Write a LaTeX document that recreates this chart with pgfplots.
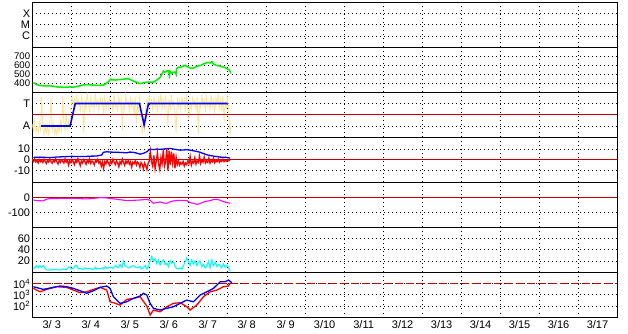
\documentclass[border=0pt]{standalone}
\usepackage{fontspec}
\setmainfont{Liberation Sans}
\usepackage{pgfplots}
\pgfplotsset{compat=1.18}
\definecolor{dred}{RGB}{192,0,0}
\definecolor{pyel}{RGB}{250,228,150}
\definecolor{lgreen}{RGB}{0,240,0}
\definecolor{lcyan}{RGB}{0,255,255}
\definecolor{lmag}{RGB}{255,0,255}
\pgfplotsset{
  panel/.style={
    scale only axis, width=584.7pt, height=45pt,
    anchor=south west,
    xmin=0, xmax=15,
    xtick={1,2,...,14}, xticklabels={},
    xmajorgrids, ymajorgrids,
    major tick length=0pt, minor tick length=0pt,
    major grid style={black, line width=0.8pt, dash pattern=on 0.8pt off 3.2pt},
    axis line style={black, line width=1pt},
    tick label style={font=\fontsize{11}{12}\selectfont},
    yticklabel style={inner ysep=0pt, inner xsep=2pt},
    /pgf/number format/assume math mode=true,
    clip=true,
  }
}
\begin{document}
\begin{tikzpicture}
\useasboundingbox (0pt,0pt) rectangle (628pt,334pt);

% Panel 1: X M C
\begin{axis}[panel, at={(32.3pt,286.7pt)}, ymin=0, ymax=4,
  ytick={1,2,3}, yticklabels={C,M,X}]
\addplot[draw=none] coordinates {(0,0)};
\end{axis}

% Panel 2: green
\begin{axis}[panel, at={(32.3pt,241.7pt)}, ymin=300, ymax=800,
  ytick={400,500,600,700}, yticklabels={400,500,600,700},
  yticklabel style={font=\fontsize{9.6}{10}\selectfont}]
\addplot[lgreen, line width=1.5pt] coordinates {
(0.027,405)(0.07,400)(0.112,385)(0.198,375)(0.283,372)(0.369,370)(0.455,372)
(0.540,368)(0.626,360)(0.668,357)(0.711,360)(0.80,355)(0.883,357)(0.968,360)
(1.054,357)(1.14,365)(1.225,371)(1.311,382)(1.396,385)(1.48,383)(1.567,380)
(1.653,378)(1.739,378)(1.824,380)(1.88,395)(1.953,418)(2.012,447)(2.05,440)
(2.124,436)(2.20,440)(2.252,442)(2.338,443)(2.381,448)(2.466,450)(2.52,440)
(2.595,425)(2.68,410)(2.766,396)(2.85,405)(2.937,414)(3.023,414)(3.066,412)
(3.108,414)(3.194,436)(3.279,465)(3.32,500)(3.365,536)(3.40,520)(3.451,540)
(3.50,536)(3.52,490)(3.536,536)(3.58,510)(3.622,525)(3.665,525)(3.69,500)(3.70,560)
(3.751,580)(3.80,575)(3.879,593)(3.92,600)(3.964,585)(4.007,580)(4.05,570)
(4.135,568)(4.18,580)(4.221,590)(4.307,597)(4.35,605)(4.392,615)(4.435,621)
(4.478,630)(4.521,632)(4.564,625)(4.606,640)(4.649,614)(4.70,605)(4.735,597)
(4.80,595)(4.820,590)(4.906,580)(4.949,575)(5.00,560)(5.035,555)(5.061,545)(5.095,510)
};
\end{axis}

% Panel 3: T / A
\begin{axis}[panel, at={(32.3pt,196.7pt)}, ymin=0, ymax=4,
  ytick={1,3}, yticklabels={A,T}]
\addplot[pyel, line width=0.8pt] coordinates {
(0.00,1.2)(0.03,0.6)(0.06,1.5)(0.09,0.4)(0.12,1.0)(0.15,0.3)(0.18,1.3)(0.21,0.5)
(0.24,3.6)(0.27,0.8)(0.30,0.2)(0.33,1.1)(0.36,0.4)(0.39,0.9)(0.42,0.2)(0.45,1.4)
(0.48,3.5)(0.51,0.6)(0.54,1.2)(0.57,0.3)(0.60,0.8)(0.63,0.2)(0.66,1.0)(0.69,0.5)
(0.72,1.6)(0.75,0.4)(0.78,3.7)(0.81,1.2)(0.84,0.6)(0.87,2.2)(0.90,0.8)(0.93,1.5)
(0.96,0.7)(0.99,2.6)(1.02,3.6)(1.05,2.8)(1.08,3.4)(1.11,2.4)(1.14,3.7)(1.17,2.9)
(1.20,3.3)(1.23,2.2)(1.26,3.6)(1.29,3.0)(1.32,0.4)(1.35,3.4)(1.38,2.6)(1.41,3.8)
(1.44,3.1)(1.47,2.3)(1.50,3.5)(1.53,2.7)(1.56,3.2)(1.59,2.5)(1.62,3.9)(1.65,2.8)
(1.68,3.3)(1.71,2.4)(1.74,3.6)(1.77,2.9)(1.80,3.4)(1.83,2.1)(1.86,3.7)(1.89,2.5)
(1.92,3.2)(1.95,2.6)(1.98,3.5)(2.01,2.9)(2.04,3.3)(2.07,2.2)(2.10,3.8)(2.13,2.7)
(2.16,3.1)(2.19,2.4)(2.22,3.6)(2.25,2.8)(2.28,3.4)(2.31,0.6)(2.34,3.0)(2.37,2.5)
(2.40,3.7)(2.43,2.9)(2.46,3.2)(2.49,2.3)(2.52,3.5)(2.55,2.7)(2.58,3.3)(2.61,2.0)
(2.64,3.6)(2.67,1.2)(2.70,3.1)(2.73,2.2)(2.76,3.8)(2.79,1.5)(2.82,0.3)(2.85,1.8)
(2.88,0.5)(2.91,2.8)(2.94,3.4)(2.97,2.6)(3.00,3.7)(3.03,2.9)(3.06,3.3)(3.09,2.3)
(3.12,3.6)(3.15,2.7)(3.18,3.2)(3.21,2.2)(3.24,3.5)(3.27,2.8)(3.30,3.9)(3.33,2.4)
(3.36,3.3)(3.39,2.6)(3.42,3.6)(3.45,2.9)(3.48,1.0)(3.51,3.4)(3.54,2.5)(3.57,3.7)
(3.60,2.8)(3.63,3.2)(3.66,2.1)(3.69,0.4)(3.72,3.5)(3.75,2.7)(3.78,3.3)(3.81,2.4)
(3.84,3.6)(3.87,2.9)(3.90,3.4)(3.93,2.2)(3.96,3.8)(3.99,2.6)(4.02,1.6)(4.05,3.1)
(4.08,2.5)(4.11,3.5)(4.14,2.8)(4.17,3.3)(4.20,2.3)(4.23,3.6)(4.26,0.3)(4.29,3.0)
(4.32,2.6)(4.35,3.7)(4.38,2.9)(4.41,3.4)(4.44,2.2)(4.47,3.6)(4.50,2.8)(4.53,3.2)
(4.56,2.4)(4.59,3.8)(4.62,2.7)(4.65,3.3)(4.68,2.1)(4.71,3.5)(4.74,2.9)(4.77,3.9)
(4.80,2.6)(4.83,3.4)(4.86,2.3)(4.89,3.7)(4.92,1.4)(4.95,3.2)(4.98,2.6)(5.01,3.5)
(5.04,2.4)(5.07,0.2)(5.10,1.5)
};
\addplot[dred, line width=1.2pt] coordinates {(0,2)(15,2)};
\addplot[blue, line width=1.6pt] coordinates {
(0.224,1)(0.97,1)(1.10,3)(2.749,3)(2.869,1.1)(2.98,3)(5.01,3)};
\end{axis}

% Panel 4: blue/red +-10
\begin{axis}[panel, at={(32.3pt,151.7pt)}, ymin=-21, ymax=21,
  ytick={-10,0,10}, yticklabels={-10,0,10}]
\addplot[dred, line width=1.2pt] coordinates {(0,0)(15,0)};
\addplot[blue, line width=1.3pt] coordinates {
(0.027,2.2)(0.2,2.5)(0.455,2.0)(0.6,2.5)(0.883,3.0)(1.0,3.2)(1.311,3.0)(1.5,3.4)
(1.653,3.5)(1.78,4.5)(1.824,7.0)(1.91,7.5)(2.0,7.2)(2.167,7.0)(2.3,6.8)(2.423,6.5)
(2.5,7.2)(2.595,7.0)(2.7,6.0)(2.766,5.3)(2.85,6.0)(2.937,7.5)(3.023,10.0)(3.108,9.5)
(3.194,10.0)(3.279,9.8)(3.365,10.0)(3.451,10.4)(3.536,10.6)(3.622,10.0)(3.7,9.5)
(3.793,9.0)(3.88,9.2)(3.964,9.4)(4.05,9.0)(4.135,8.4)(4.221,7.8)(4.307,7.0)
(4.392,5.8)(4.478,4.7)(4.564,4.0)(4.649,3.4)(4.735,3.0)(4.820,2.5)(4.906,2.4)
(4.992,2.2)(5.078,1.5)
};
\addplot[red, line width=1.3pt] coordinates {
(0.00,0.5)(0.03,-1.5)(0.06,0.8)(0.09,-2.0)(0.12,-0.5)(0.15,-3.0)(0.18,0.2)(0.21,-1.8)
(0.24,-0.6)(0.27,-2.5)(0.30,0.5)(0.33,-1.2)(0.36,-3.5)(0.39,-0.8)(0.42,-2.2)(0.45,0.6)
(0.48,-1.5)(0.51,-3.2)(0.54,-0.4)(0.57,-2.0)(0.60,1.0)(0.63,-1.8)(0.66,-4.0)(0.69,-0.6)
(0.72,-2.5)(0.75,-0.2)(0.78,-1.4)(0.81,-3.0)(0.84,0.8)(0.87,-2.2)(0.90,-0.6)(0.93,-5.0)
(0.96,-1.0)(0.99,-2.8)(1.02,0.4)(1.05,-1.6)(1.08,-4.5)(1.11,-0.8)(1.14,-2.4)(1.17,1.2)
(1.20,-2.0)(1.23,-5.5)(1.26,-1.2)(1.29,-3.0)(1.32,0.2)(1.35,-1.8)(1.38,-4.2)(1.41,-0.5)
(1.44,-2.6)(1.47,0.8)(1.50,-3.5)(1.53,-1.0)(1.56,-2.2)(1.59,-4.8)(1.62,-0.6)(1.65,-2.0)
(1.68,0.5)(1.71,-3.2)(1.74,-1.4)(1.77,-6.0)(1.80,-2.0)(1.83,-8.0)(1.86,-1.5)(1.89,-3.8)
(1.92,-0.4)(1.95,-2.6)(1.98,-5.0)(2.01,-1.2)(2.04,-3.4)(2.07,0.5)(2.10,-2.2)(2.13,-4.5)
(2.16,-1.0)(2.19,-3.0)(2.22,-6.5)(2.25,-1.6)(2.28,-3.8)(2.31,0.8)(2.34,-2.4)(2.37,-5.2)
(2.40,-1.0)(2.43,-3.2)(2.46,-0.6)(2.49,-4.0)(2.52,-1.8)(2.55,-6.8)(2.58,-2.2)(2.61,-3.6)
(2.64,-1.0)(2.67,-5.0)(2.70,-2.0)(2.73,-3.4)(2.76,-7.0)(2.79,-2.5)(2.82,-4.2)(2.85,-8.5)
(2.88,-3.0)(2.91,-5.5)(2.94,-9.0)(2.97,-3.5)(3.00,-1.0)(3.03,8.0)(3.06,-2.0)(3.09,-6.0)
(3.12,4.0)(3.15,-8.5)(3.18,-1.5)(3.21,6.5)(3.24,-4.0)(3.27,-9.0)(3.30,2.0)(3.33,-3.5)
(3.36,9.0)(3.39,-6.0)(3.42,-2.0)(3.45,10.5)(3.48,-10.0)(3.51,8.5)(3.54,-5.0)(3.57,7.5)
(3.60,-3.0)(3.63,6.0)(3.66,-8.0)(3.69,2.5)(3.72,-4.5)(3.75,-1.0)(3.78,-5.0)(3.81,-2.5)
(3.84,-4.0)(3.87,-1.5)(3.90,-6.0)(3.93,-3.0)(3.96,-4.5)(3.99,-1.0)(4.02,-3.5)(4.05,3.0)
(4.08,-5.0)(4.11,-1.5)(4.14,-3.0)(4.17,2.0)(4.20,-4.0)(4.23,-1.0)(4.26,-2.5)(4.29,3.5)
(4.32,-3.5)(4.35,-0.5)(4.38,-2.2)(4.41,2.5)(4.44,-3.0)(4.47,-1.0)(4.50,-2.4)(4.53,1.8)
(4.56,-3.2)(4.59,-0.8)(4.62,-2.0)(4.65,1.5)(4.68,-2.8)(4.71,-0.6)(4.74,-1.8)(4.77,0.8)
(4.80,-2.2)(4.83,-0.4)(4.86,-1.6)(4.89,0.5)(4.92,-1.8)(4.95,-0.6)(4.98,-1.4)(5.01,-0.5)
(5.04,-1.0)(5.07,-0.4)
};
\end{axis}

% Panel 5: magenta
\begin{axis}[panel, at={(32.3pt,106.7pt)}, ymin=-200, ymax=100,
  ytick={-100,0}, yticklabels={-100,0}]
\addplot[dred, line width=1.2pt] coordinates {(0,0)(15,0)};
\addplot[lmag, line width=1.1pt] coordinates {
(0.027,-18)(0.112,-22)(0.283,-24)(0.369,-12)(0.455,-9)(0.6,-8)(0.883,-7)(1.0,-6)
(1.14,-8)(1.396,-11)(1.5,-9)(1.739,-2)(1.9,-4)(2.0,-8)(2.167,-13)(2.3,-18)(2.423,-22)
(2.6,-20)(2.766,-18)(2.937,-13)(3.023,-20)(3.108,-40)(3.194,-35)(3.279,-31)(3.365,-38)
(3.451,-40)(3.536,-30)(3.622,-24)(3.793,-20)(3.964,-22)(4.050,-36)(4.135,-40)(4.221,-47)
(4.30,-42)(4.392,-31)(4.478,-26)(4.564,-22)(4.649,-15)(4.735,-13)(4.820,-20)(4.906,-29)
(4.992,-35)(5.078,-40)
};
\end{axis}

% Panel 6: cyan
\begin{axis}[panel, at={(32.3pt,61.7pt)}, ymin=0, ymax=80,
  ytick={20,40,60}, yticklabels={20,40,60}]
\addplot[lcyan, line width=1.1pt] coordinates {
(0.027,6)(0.07,9)(0.112,12)(0.155,8)(0.198,12)(0.24,9)(0.283,12)(0.33,7)(0.369,4.5)
(0.455,4)(0.540,4.5)(0.626,5)(0.711,4)(0.80,6)(0.883,5)(0.93,9)(0.968,10)(1.0,6)
(1.054,7)(1.10,12)(1.14,12)(1.18,6)(1.225,7)(1.311,5)(1.35,8)(1.396,6)(1.48,7)
(1.567,5)(1.62,9)(1.653,6)(1.70,7)(1.739,6)(1.80,8)(1.824,6)(1.88,10)(1.91,7)
(1.953,8)(2.0,9)(2.08,7)(2.124,12)(2.167,10)(2.21,8)(2.252,14)(2.30,9)(2.338,20)
(2.38,12)(2.42,10)(2.466,8)(2.52,9)(2.595,12)(2.65,9)(2.70,8)(2.766,10)(2.80,6)
(2.852,9)(2.90,12)(2.937,6)(2.98,10)(3.023,20)(3.066,28)(3.108,20)(3.15,24)(3.194,15)
(3.237,22)(3.279,13)(3.32,18)(3.365,22)(3.40,14)(3.451,16)(3.49,10)(3.536,21)(3.58,16)
(3.622,19)(3.665,10)(3.70,7)(3.751,6)(3.793,8)(3.84,6)(3.879,12)(3.92,18)(3.964,26)
(4.00,20)(4.05,12)(4.09,22)(4.135,15)(4.18,20)(4.221,12)(4.26,18)(4.307,20)(4.35,10)
(4.392,14)(4.435,8)(4.478,11)(4.52,20)(4.564,8)(4.606,22)(4.649,12)(4.70,18)(4.735,10)
(4.78,14)(4.820,12)(4.86,8)(4.906,15)(4.949,9)(4.992,12)(5.035,9)(5.078,2)
};
\end{axis}

% Panel 7: log
\begin{axis}[panel, at={(32.3pt,16.7pt)}, ymode=log, ymin=10, ymax=100000,
  ytick={100,1000,10000},
  yticklabels={10\textsuperscript{2},10\textsuperscript{3},10\textsuperscript{4}},
  extra x ticks={0.5,1.5,...,14.5},
  extra x tick labels={3/ 3,3/ 4,3/ 5,3/ 6,3/ 7,3/ 8,3/ 9,3/10,3/11,3/12,3/13,3/14,3/15,3/16,3/17},
  extra x tick style={grid=none, major tick length=0pt}]
\addplot[dred, line width=1.2pt, dash pattern=on 8pt off 3pt] coordinates {(0,10000)(15,10000)};
\addplot[red, line width=1.3pt] coordinates {
(0.027,3715)(0.198,1862)(0.369,3020)(0.626,5248)(0.883,4571)(1.054,2630)(1.225,1549)
(1.396,1862)(1.567,3020)(1.739,4571)(1.910,2630)(1.995,240)(2.081,200)(2.252,123)
(2.423,389)(2.595,479)(2.766,676)(2.937,100)(3.023,16)(3.108,44)(3.279,31)(3.451,87)
(3.622,174)(3.793,200)(3.964,87)(4.050,44)(4.221,123)(4.392,676)(4.564,1862)
(4.735,2630)(4.906,5248)(5.035,6026)(5.078,11749)
};
\addplot[blue, line width=1.3pt] coordinates {
(0.027,5248)(0.283,3020)(0.540,4571)(0.711,6026)(0.883,5248)(1.054,3715)(1.225,2291)
(1.396,1349)(1.567,2291)(1.739,4571)(1.910,6026)(1.995,3715)(2.081,676)(2.252,174)
(2.423,240)(2.595,479)(2.766,776)(2.852,1349)(2.937,955)(3.023,174)(3.108,63)
(3.279,44)(3.451,63)(3.622,87)(3.793,174)(3.964,339)(4.135,240)(4.307,955)
(4.478,1862)(4.649,3715)(4.820,14454)(4.949,14454)(5.035,20417)(5.121,11749)
};
\end{axis}
\end{tikzpicture}
\end{document}
